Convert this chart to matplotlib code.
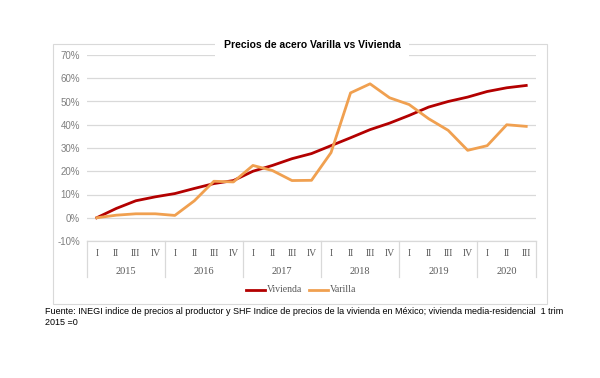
import numpy as np
import matplotlib.pyplot as plt
from matplotlib.patches import Rectangle
from matplotlib.lines import Line2D

years = ["2015", "2016", "2017", "2018", "2019", "2020"]
quarters_per_year = [4, 4, 4, 4, 4, 3]
roman = ["I", "II", "III", "IV"]

vivienda = [0.0, 4.0, 7.3, 9.0, 10.4, 12.6, 14.7, 16.0, 20.0, 22.5, 25.4, 27.6,
            31.0, 34.4, 37.9, 40.7, 44.0, 47.6, 50.0, 51.9, 54.3, 55.9, 56.9]
varilla = [0.0, 1.1, 1.7, 1.7, 1.0, 7.3, 15.7, 15.4, 22.5, 20.3, 16.0, 16.1,
           28.0, 53.7, 57.6, 51.6, 48.7, 42.6, 37.6, 29.0, 31.0, 40.0, 39.3]

yticks = [-10, 0, 10, 20, 30, 40, 50, 60, 70]

W, H = 600, 378
fig = plt.figure(figsize=(6, 3.78), dpi=100)

def fx(px):
    return px / W

def fy(py):
    return 1 - py / H

# chart frame
fig.patches.append(Rectangle((fx(53), fy(304)), fx(547) - fx(53), fy(44) - fy(304),
                             transform=fig.transFigure, fill=False,
                             edgecolor="#d9d9d9", linewidth=0.8))

ax = fig.add_axes([fx(87), fy(241), fx(536) - fx(87), fy(55) - fy(241)])
x = np.arange(len(vivienda))
ax.set_xlim(-0.5, len(vivienda) - 0.5)
ax.set_ylim(-10, 70)
ax.set_yticks(yticks)
ax.set_yticklabels([f"{v}%" for v in yticks], fontfamily="Liberation Sans",
                   fontsize=7, color="#7f7f7f")
ax.tick_params(axis="y", length=0, pad=5)
ax.set_xticks([])
for s in ax.spines.values():
    s.set_visible(False)
ax.grid(axis="y", color="#d9d9d9", linewidth=0.9)
ax.set_axisbelow(True)

ax.plot(x, vivienda, color="#b30000", linewidth=2)
ax.plot(x, varilla, color="#f0a050", linewidth=2)

# title with white background covering the gridline
fig.text(fx(312), fy(45), "Precios de acero Varilla vs Vivienda", ha="center",
         va="center", fontsize=7.5, fontweight="bold", fontfamily="Liberation Sans",
         bbox=dict(facecolor="white", edgecolor="none", pad=6))

# category axis
trans = ax.get_xaxis_transform()
ax.plot([-0.5, len(vivienda) - 0.5], [0, 0], transform=trans, color="#d9d9d9",
        linewidth=0.9, clip_on=False)
lab_y1 = (fy(253) - fy(241)) / (fy(55) - fy(241))
lab_y2 = (fy(271) - fy(241)) / (fy(55) - fy(241))
sep_bot = (fy(277) - fy(241)) / (fy(55) - fy(241))
pos = 0
bounds = [-0.5]
for yr, n in zip(years, quarters_per_year):
    for q in range(n):
        ax.text(pos + q, lab_y1, roman[q], transform=trans, ha="center", va="center",
                fontfamily="Liberation Serif", fontsize=7, color="#595959")
    ax.text(pos + (n - 1) / 2, lab_y2, yr, transform=trans, ha="center", va="center",
            fontfamily="Liberation Serif", fontsize=7.5, color="#595959")
    pos += n
    bounds.append(pos - 0.5)
for b in bounds:
    ax.plot([b, b], [0, sep_bot], transform=trans, color="#d9d9d9", linewidth=0.9,
            clip_on=False)

# legend
fig.lines.append(Line2D([fx(246), fx(265)], [fy(290), fy(290)], transform=fig.transFigure,
                        color="#b30000", linewidth=2))
fig.text(fx(267), fy(290), "Vivienda", va="center", fontfamily="Liberation Serif",
         fontsize=7, color="#595959")
fig.lines.append(Line2D([fx(309), fx(328)], [fy(290), fy(290)], transform=fig.transFigure,
                        color="#f0a050", linewidth=2))
fig.text(fx(330), fy(290), "Varilla", va="center", fontfamily="Liberation Serif",
         fontsize=7, color="#595959")

# source note
fig.text(fx(45), fy(307), "Fuente: INEGI indice de precios al productor y SHF Indice de precios "
         "de la vivienda en México; vivienda media-residencial  1 trim\n2015 =0",
         ha="left", va="top", fontfamily="Liberation Sans", fontsize=6.5, color="black",
         linespacing=1.25)

fig.savefig("out.png", dpi=100)
